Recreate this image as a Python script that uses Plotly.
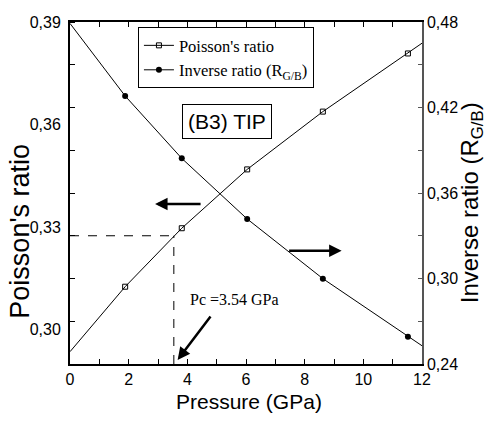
import plotly.graph_objects as go

# ---- data ----
pressure_pts = [1.88, 3.81, 6.04, 8.62, 11.52]
poisson_pts = [0.3126, 0.3297, 0.3469, 0.3638, 0.3808]
inverse_pts = [0.4281, 0.3843, 0.3418, 0.2999, 0.2592]

pressure_line = [0.0, 1.88, 3.81, 6.04, 8.62, 11.52, 12.0]
poisson_line = [0.2936, 0.3126, 0.3297, 0.3469, 0.3638, 0.3808, 0.3838]
inverse_line = [0.4790, 0.4281, 0.3843, 0.3418, 0.2999, 0.2592, 0.2528]

pc = 3.54
poisson_at_pc = 0.3275

x_ticks = [0, 2, 4, 6, 8, 10, 12]
left_ticks = [0.30, 0.33, 0.36, 0.39]
left_labels = ["0,30", "0,33", "0,36", "0,39"]
right_ticks = [0.24, 0.30, 0.36, 0.42, 0.48]
right_labels = ["0,24", "0,30", "0,36", "0,42", "0,48"]

SANS = "Liberation Sans, Arial, sans-serif"
SERIF = "Liberation Serif, Times New Roman, serif"

fig = go.Figure()

# lines
fig.add_trace(go.Scatter(x=pressure_line, y=poisson_line, mode="lines",
                         line=dict(color="black", width=1), showlegend=False,
                         hoverinfo="skip", yaxis="y"))
fig.add_trace(go.Scatter(x=pressure_line, y=inverse_line, mode="lines",
                         line=dict(color="black", width=1), showlegend=False,
                         hoverinfo="skip", yaxis="y2"))
# markers
fig.add_trace(go.Scatter(x=pressure_pts, y=poisson_pts, mode="markers",
                         marker=dict(symbol="square-open", size=5, color="black",
                                     line=dict(width=1, color="black")),
                         showlegend=False, yaxis="y"))
fig.add_trace(go.Scatter(x=pressure_pts, y=inverse_pts, mode="markers",
                         marker=dict(symbol="circle", size=6, color="black"),
                         showlegend=False, yaxis="y2"))
# legend entries
fig.add_trace(go.Scatter(x=[None], y=[None], mode="lines+markers", name="Poisson's ratio",
                         line=dict(color="black", width=1),
                         marker=dict(symbol="square-open", size=5, color="black",
                                     line=dict(width=1, color="black"))))
fig.add_trace(go.Scatter(x=[None], y=[None], mode="lines+markers",
                         name="Inverse ratio (R<sub>G/B</sub>)",
                         line=dict(color="black", width=1),
                         marker=dict(symbol="circle", size=6, color="black")))

fig.update_layout(
    width=488, height=424,
    margin=dict(l=70, r=66, t=22, b=60),
    paper_bgcolor="white", plot_bgcolor="white",
    showlegend=True,
    legend=dict(x=0.193, y=0.985, xanchor="left", yanchor="top",
                bordercolor="black", borderwidth=1, bgcolor="white",
                font=dict(family=SERIF, size=16.5, color="black"),
                tracegroupgap=0),
    xaxis=dict(range=[0, 12], tickvals=x_ticks, ticktext=[str(v) for v in x_ticks],
               ticks="inside", ticklen=5, tickwidth=1, tickcolor="black",
               minor=dict(dtick=1, tick0=0, ticks="inside", ticklen=5, tickwidth=1, tickcolor="black"),
               showline=True, linecolor="black", linewidth=2, mirror="ticks",
               showgrid=False, zeroline=False,
               tickfont=dict(family=SANS, size=16, color="black")),
    yaxis=dict(range=[0.29, 0.39], tickvals=left_ticks, ticktext=left_labels,
               ticks="", ticklabelstandoff=4,
               minor=dict(tickmode="linear", tick0=0.29, dtick=0.0125, ticks="inside",
                          ticklen=5, tickwidth=1, tickcolor="black"),
               showline=True, linecolor="black", linewidth=2,
               showgrid=False, zeroline=False,
               tickfont=dict(family=SANS, size=16, color="black")),
    yaxis2=dict(range=[0.24, 0.48], tickvals=right_ticks, ticktext=right_labels,
                overlaying="y", side="right",
                ticks="inside", ticklen=4, tickwidth=1, tickcolor="#555555",
                minor=dict(dtick=0.03, tick0=0.24, ticks="inside", ticklen=4,
                           tickwidth=1, tickcolor="#555555"),
                showline=True, linecolor="#555555", linewidth=1.5,
                showgrid=False, zeroline=False,
                tickfont=dict(family=SANS, size=16, color="black")),
)

# dashed guide lines at Pc
fig.add_shape(type="line", xref="x", yref="y", x0=0, x1=pc, y0=poisson_at_pc, y1=poisson_at_pc,
              line=dict(color="black", width=1, dash="dash"))
fig.add_shape(type="line", xref="x", yref="y", x0=pc, x1=pc, y0=0.29, y1=poisson_at_pc,
              line=dict(color="black", width=1, dash="dash"))

annotations = [
    # axis titles
    dict(text="Pressure (GPa)", xref="paper", yref="paper", x=0.508, y=-0.11,
         xanchor="center", yanchor="middle",
         showarrow=False, font=dict(family=SANS, size=21, color="black")),
    dict(text="Poisson's ratio", xref="paper", yref="paper", x=-0.142, y=0.387,
         xanchor="center", yanchor="middle",
         textangle=-90, showarrow=False, font=dict(family=SANS, size=27, color="black")),
    dict(text="Inverse ratio (R<sub>G/B</sub>)", xref="paper", yref="paper", x=1.143, y=0.471,
         xanchor="center", yanchor="middle",
         textangle=-90, showarrow=False, font=dict(family=SANS, size=24, color="black")),
    # label box
    dict(text="(B3) TIP", xref="paper", yref="paper", x=0.4474, y=0.709,
         xanchor="center", yanchor="middle",
         showarrow=False, bordercolor="black", borderwidth=1, borderpad=5, bgcolor="white",
         font=dict(family=SANS, size=21, color="black")),
    # Pc text
    dict(text="Pc =3.54 GPa", xref="paper", yref="paper", x=0.335, y=0.19,
         xanchor="left", yanchor="middle",
         showarrow=False, font=dict(family=SERIF, size=16, color="black")),
    # arrows
    dict(text="", xref="x", yref="paper", x=2.90, y=0.468, ax=47, ay=0,
         showarrow=True, arrowhead=2, arrowsize=1, arrowwidth=2.5, arrowcolor="black"),
    dict(text="", xref="x", yref="paper", x=9.26, y=0.331, ax=-54, ay=0,
         showarrow=True, arrowhead=2, arrowsize=1, arrowwidth=2.5, arrowcolor="black"),
    dict(text="", xref="x", yref="paper", x=3.67, y=0.012, ax=34, ay=-45,
         showarrow=True, arrowhead=2, arrowsize=1, arrowwidth=2.5, arrowcolor="black"),
]
fig.update_layout(annotations=annotations)

fig.write_html("out.html", config={"displayModeBar": False},
               post_script="document.body.style.margin='0';document.body.style.padding='0';")
